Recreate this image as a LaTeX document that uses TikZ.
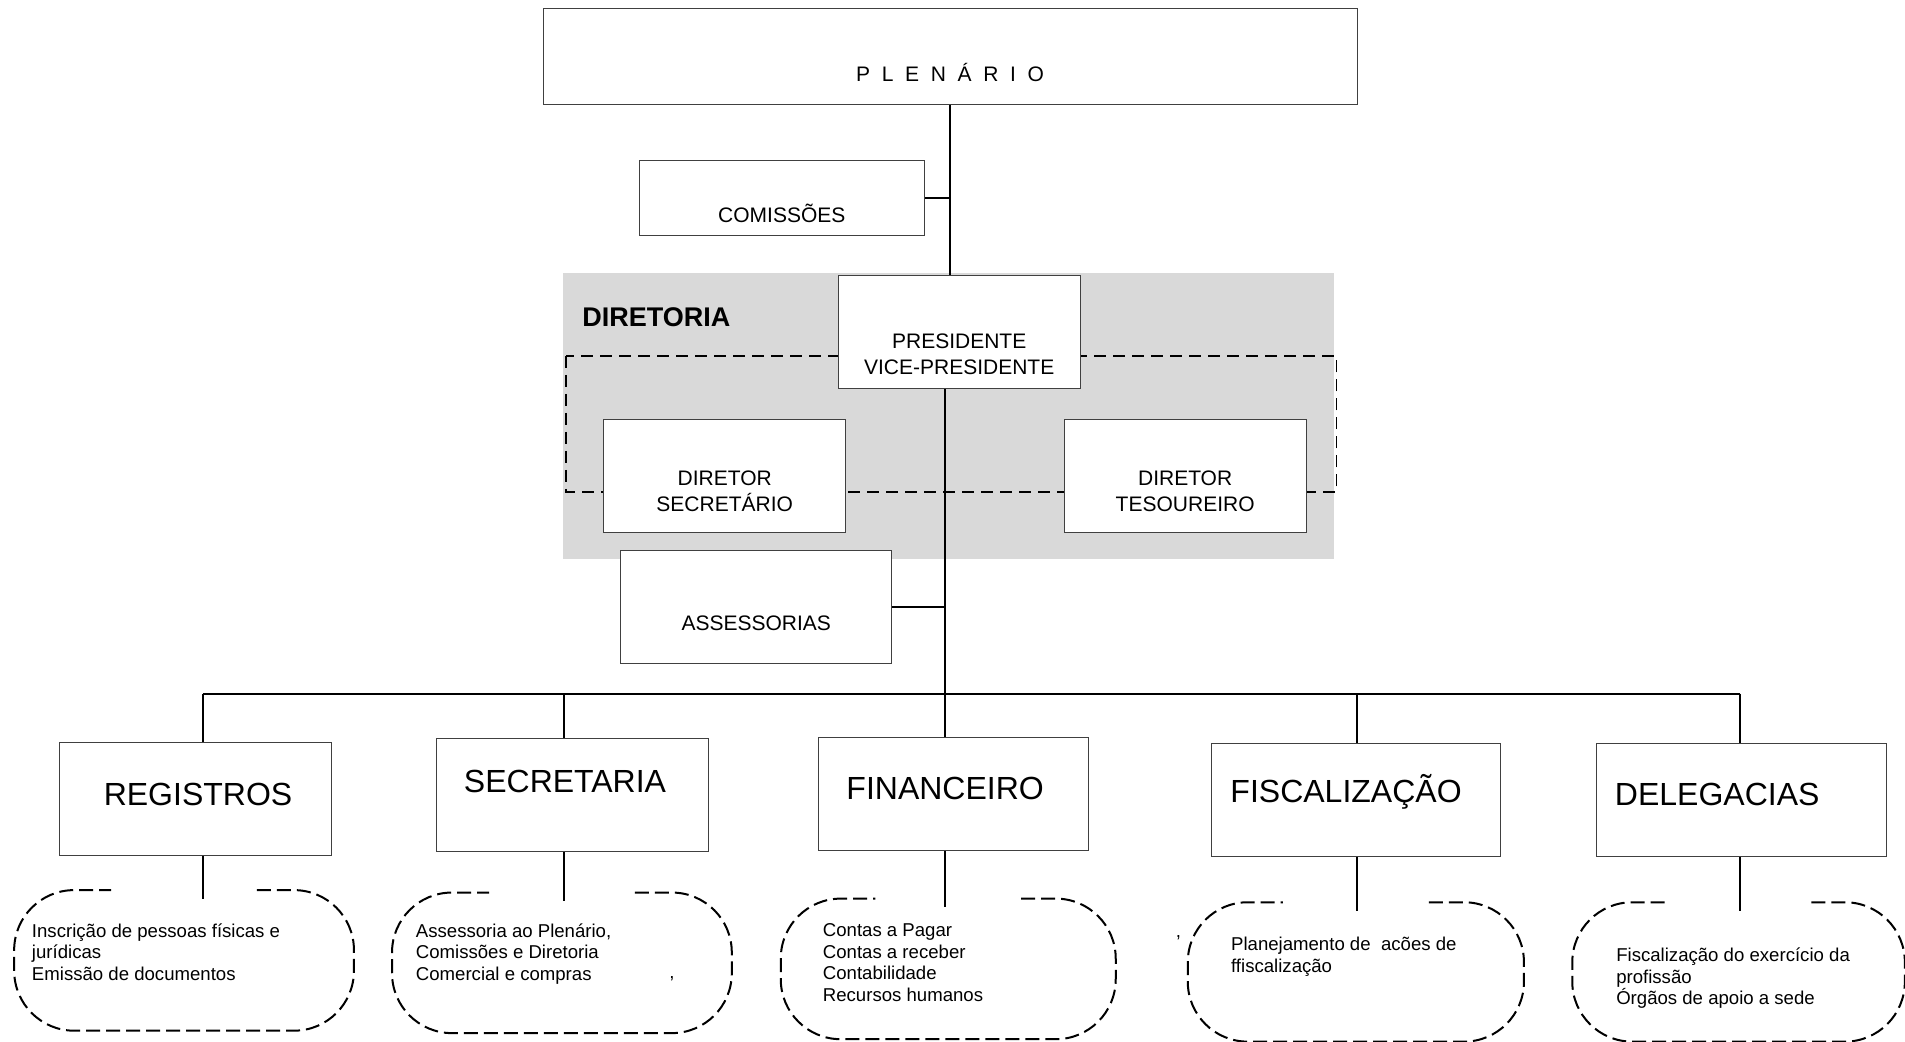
\documentclass[tikz,border=0pt]{standalone}
\usepackage{fontspec}
\setmainfont{Liberation Sans}
\usetikzlibrary{calc}
\definecolor{diretoriagray}{RGB}{217,217,217}
\tikzset{orgbox/.style={rectangle, draw=black!75, fill=white, line width=0.5pt, minimum height=56.5pt, inner sep=0pt},
  boxtext/.style={font=\fontsize{10.5}{12.8}\selectfont, align=center},
  bigtext/.style={font=\fontsize{16}{19}\selectfont},
  taskbox/.style={rectangle, minimum height=69.9pt, inner sep=0pt},
  tasktext/.style={font=\fontsize{9.3}{10.75}\selectfont, align=left, inner sep=0pt, anchor=north west},
  taskline/.style={dash pattern=on 7pt off 3pt, line width=1pt, rounded corners=30pt},
  link/.style={line width=0.8pt}}

\begin{document}
\begin{tikzpicture}[x=0.6075pt, y=-0.6075pt]
\useasboundingbox (0,0) rectangle (1568,857);

% diretoria
\fill[diretoriagray] (463,225) rectangle (1098,460);
\node[font=\bfseries\fontsize{13.5}{16}\selectfont, anchor=west, inner sep=0pt] (diretoria) at (479,261) {DIRETORIA};
\draw[dash pattern=on 6pt off 3.5pt, line width=0.9pt] (466,293) rectangle (1100,405);

% nodes
\node[orgbox, minimum width=407pt, minimum height=48pt, label={[boxtext, yshift=-8.2pt]center:P~~L~~E~~N~~Á~~R~~I~~O}] (plenario) at (782,46.5) {};
\node[orgbox, minimum width=142.8pt, minimum height=37.7pt, label={[boxtext, yshift=-7.9pt]center:COMISSÕES}] (comissoes) at (643.5,163) {};
\node[orgbox, minimum width=120.9pt, label={[boxtext, yshift=-10.9pt]center:{PRESIDENTE\\VICE-PRESIDENTE}}] (presidente) at (789.5,273.5) {};
\node[orgbox, minimum width=120.9pt, label={[boxtext, yshift=-7.9pt]center:{DIRETOR\\SECRETÁRIO}}] (dirsecretario) at (596.5,391.5) {};
\node[orgbox, minimum width=120.9pt, label={[boxtext, yshift=-7.9pt]center:{DIRETOR\\TESOUREIRO}}] (dirtesoureiro) at (975.5,391.5) {};
\node[orgbox, minimum width=135.5pt, label={[boxtext, yshift=-8.2pt]center:ASSESSORIAS}] (assessorias) at (622.5,499.5) {};

\node[orgbox, minimum width=136.1pt, label={[bigtext, xshift=1.2pt, yshift=2.1pt]center:REGISTROS}] (registros) at (161,657.5) {};
\node[orgbox, minimum width=136.1pt, label={[bigtext, xshift=-3.6pt, yshift=7pt]center:SECRETARIA}] (secretaria) at (471,654.5) {};
\node[orgbox, minimum width=134.9pt, label={[bigtext, xshift=-4.3pt, yshift=2.7pt]center:FINANCEIRO}] (financeiro) at (785,653.5) {};
\node[orgbox, minimum width=144.6pt, label={[bigtext, xshift=-4.9pt, yshift=4pt]center:FISCALIZAÇÃO}] (fiscalizacao) at (1116,658.5) {};
\node[orgbox, minimum width=145.2pt, label={[bigtext, xshift=-12.2pt, yshift=2.7pt]center:DELEGACIAS}] (delegacias) at (1433.5,658.5) {};

% task boxes
\node[taskbox, minimum width=169.5pt] (tregistros) at (151.5,790.5) {};
\node[taskbox, minimum width=169.5pt] (tsecretaria) at (462.5,792.5) {};
\node[taskbox, minimum width=167.1pt] (tfinanceiro) at (780.5,797.5) {};
\node[taskbox, minimum width=167.7pt, minimum height=69.3pt] (tfiscalizacao) at (1116,800) {};
\node[taskbox, minimum width=165.9pt, minimum height=69.3pt] (tdelegacias) at (1431,800) {};

\foreach \t in {tregistros,tsecretaria,tfinanceiro,tfiscalizacao,tdelegacias}{
  \draw[taskline] ($(\t.north)+(60,0)$) -- (\t.north east) -- (\t.south east) -- (\t.south west) -- (\t.north west) -- ($(\t.north)+(-60,0)$);
}

\node[tasktext] (lregistros) at (26,760) {Inscrição de pessoas físicas e\\jurídicas\\Emissão de documentos};
\node[tasktext] (lsecretaria) at (342,760) {Assessoria ao Plenário,\\Comissões e Diretoria\\Comercial e compras};
\node[tasktext] (lfinanceiro) at (677,760) {Contas a Pagar\\Contas a receber\\Contabilidade\\Recursos humanos};
\node[tasktext] (lfiscalizacao) at (1013,771) {Planejamento de\ \ acões de\\ffiscalização};
\node[tasktext] (ldelegacias) at (1330,780) {Fiscalização do exercício da\\profissão\\Órgãos de apoio a sede};
\node[tasktext, anchor=base] (cmsecretaria) at (553,805) {,};
\node[tasktext, anchor=base] (cmfiscalizacao) at (970,772) {,};

% edges
\coordinate (bus) at (778,571);
\draw[link] (plenario.south) -- (plenario.south |- presidente.north);
\draw[link] (comissoes.east) -- (comissoes.east -| plenario.south);
\draw[link] (presidente.south -| bus) -- (bus);
\draw[link] (assessorias.east) -- (assessorias.east -| bus);

\foreach \n/\dx in {registros/6, secretaria/-7, financeiro/-7, fiscalizacao/1, delegacias/-1.5}{
  \coordinate (up\n) at ($(\n.north)+(\dx,0)$);
  \coordinate (dn\n) at ($(\n.south)+(\dx,0)$);
  \draw[link] (up\n |- bus) -- (up\n);
  \draw[link] (dn\n) -- ($(dn\n |- t\n.north)+(0,7)$);
}
\draw[link] (upregistros |- bus) -- (updelegacias |- bus);

\end{tikzpicture}
\end{document}
